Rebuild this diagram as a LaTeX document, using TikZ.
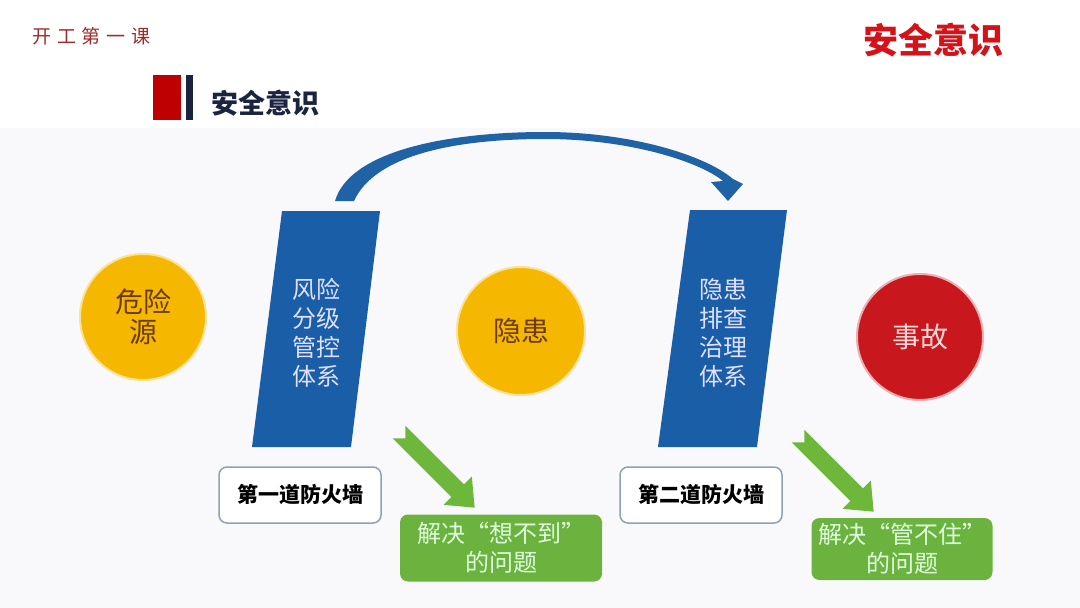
\documentclass[tikz,border=0pt]{standalone}
\usepackage{fontspec}
\setmainfont{Noto Sans CJK SC}
\newfontfamily\spacedcjk[LetterSpace=30]{Noto Sans CJK SC}
\usepackage{xcolor}
\usepackage{tikz}
\usetikzlibrary{positioning}
\definecolor{wallblue}{HTML}{1A5EA8}
\definecolor{arcblue}{HTML}{1F62A6}
\definecolor{sunyellow}{HTML}{F6B700}
\definecolor{sunbrown}{HTML}{6A3B0E}
\definecolor{firered}{HTML}{C9171E}
\definecolor{leafgreen}{HTML}{6BB23E}
\definecolor{arrowgreen}{HTML}{6DB83A}
\definecolor{titlered}{HTML}{D3121A}
\definecolor{navy}{HTML}{1A2440}
\definecolor{lessonred}{HTML}{9E2A2B}
\definecolor{panelgrey}{HTML}{F9F9FB}
\definecolor{frameblue}{HTML}{8DA2B4}
\tikzset{
  hazard/.style={
    circle,
    minimum size=126pt,
    inner sep=0pt,
    fill=sunyellow,
    draw=sunyellow!40!white,
    line width=2pt,
    text=sunbrown,
    align=center,
    font=\fontsize{28}{30}\selectfont
  },
  walltext/.style={
    align=center,
    text=blue!12!white,
    font=\fontsize{24}{29}\selectfont
  },
  firewall/.style={
    rectangle,
    draw=frameblue,
    line width=1.5pt,
    rounded corners=8pt,
    fill=white,
    minimum width=162pt,
    minimum height=56pt,
    font=\bfseries\fontsize{21}{21}\selectfont
  },
  solved/.style={
    rectangle,
    rounded corners=8pt,
    fill=leafgreen,
    text=white!88!green,
    align=center,
    font=\fontsize{24}{29}\selectfont
  }
}

\begin{document}
\begin{tikzpicture}[x=1pt,y=-1pt]
\useasboundingbox (0,0) rectangle (1080,608);
\fill[white] (0,0) rectangle (1080,128);
\fill[panelgrey] (0,128) rectangle (1080,608);

% header
\node[anchor=west, text=lessonred, font=\spacedcjk\fontsize{19}{19}\selectfont] (lesson) at (29,36) {开工第一课};
\node[text=titlered, font=\bfseries\fontsize{35}{35}\selectfont] (toptitle) at (933,40) {安全意识};
\fill[red!75!black] (153,75) rectangle (181,120);
\fill[navy] (186,75) rectangle (193,120);
\node[anchor=west, text=navy, font=\bfseries\fontsize{27}{27}\selectfont] (title) at (208,103) {安全意识};

% the two walls
\fill[wallblue] (282,211) -- (380,211) -- (351,447) -- (252,447) -- cycle;
\fill[wallblue] (690,210) -- (787,210) -- (757,447) -- (658,447) -- cycle;
\node[walltext] (wall1) at (316,333) {风险\\分级\\管控\\体系};
\node[walltext] (wall2) at (723,333) {隐患\\排查\\治理\\体系};

% jump over the first wall
\fill[arcblue] (335,201) .. controls (350,150) and (450,132) .. (545,132)
  .. controls (630,132) and (705,155) .. (733,179) -- (743,184) -- (728,201)
  -- (711,182) -- (723,181) .. controls (700,162) and (630,139) .. (545,139)
  .. controls (455,139) and (375,155) .. (354,201) -- cycle;

% circles
\node[hazard] (danger) at (143,317) {危险\\源};
\node[hazard, minimum size=128pt] (hidden) at (521,331) {隐患};
\node[hazard, fill=firered, draw=firered!35!white, text=red!15!white] (accident) at (920,337) {事故};

% firewalls
\node[firewall] (fw1) at (300,495) {第一道防火墙};
\node[firewall] (fw2) at (701,495) {第二道防火墙};

% green arrows
\foreach \x/\y in {399/432, 798/436} {
  \begin{scope}[shift={(\x,\y)}, rotate=-45]
    \fill[arrowgreen] (9,0) -- (0,9) -- (83,9) -- (83,20) -- (107,0) -- (83,-20) -- (83,-9) -- (0,-9) -- cycle;
  \end{scope}
}

\node[solved, minimum width=202pt, minimum height=67pt] (fix1) at (501,548) {解决“想不到”\\的问题};
\node[solved, minimum width=181pt, minimum height=62pt] (fix2) at (902,549) {解决“管不住”\\的问题};

\end{tikzpicture}
\end{document}
